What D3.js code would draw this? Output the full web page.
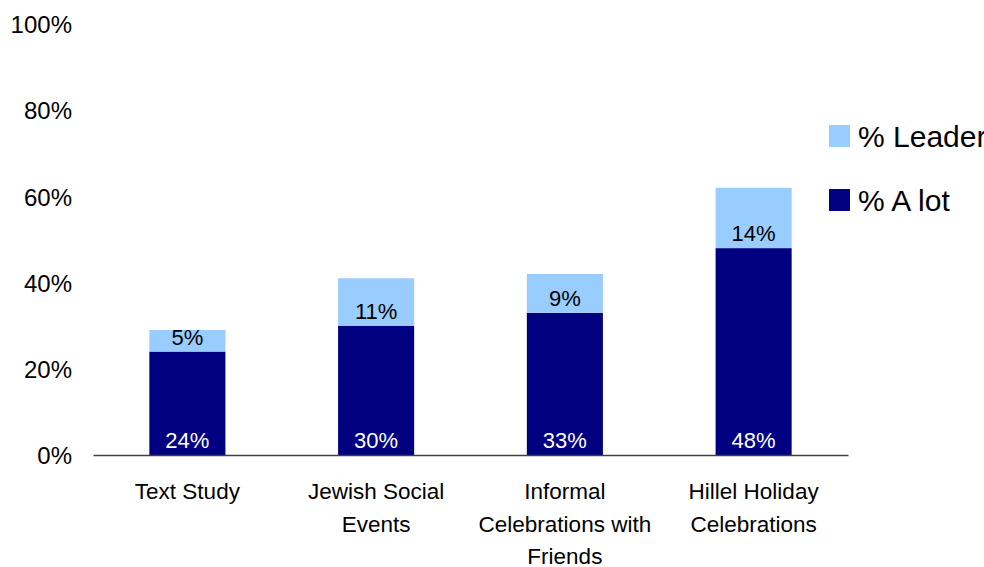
<!DOCTYPE html>
<html>
<head>
<meta charset="utf-8">
<script src="https://cdn.jsdelivr.net/npm/d3@7"></script>
<style>
  html, body { margin: 0; padding: 0; background: #fff; overflow: hidden; }
  svg text { font-family: "Liberation Sans", Arial, Helvetica, sans-serif; }
</style>
</head>
<body>
<svg id="chart" width="984" height="567"></svg>
<script>
// Participation by activity type
const categories = [
  ["Text Study"],
  ["Jewish Social", "Events"],
  ["Informal", "Celebrations with", "Friends"],
  ["Hillel Holiday", "Celebrations"]
];
const aLot = [24, 30, 33, 48];
const leader = [5, 11, 9, 14];
const yTicks = [0, 20, 40, 60, 80, 100];
const seriesNames = ["% Leader", "% A lot"];
const colors = { aLot: "#000080", leader: "#99CCFF" };

const svg = d3.select("#chart");
const margin = { left: 93, right: 136, top: 24, bottom: 112 };
const W = 984, H = 567;

const x = d3.scaleBand()
  .domain(d3.range(categories.length))
  .range([margin.left, W - margin.right])
  .padding(0);
const barW = x.bandwidth() * 0.403;

const y = d3.scaleLinear()
  .domain([0, 100])
  .range([H - margin.bottom, margin.top]);

// y axis labels (no axis line, no ticks)
const yAxis = d3.axisLeft(y)
  .tickValues(yTicks)
  .tickFormat(d => d + "%")
  .tickSize(0)
  .tickPadding(0);
const yg = svg.append("g")
  .attr("transform", `translate(${margin.left - 21},0)`)
  .call(yAxis);
yg.select(".domain").remove();
yg.selectAll("text")
  .attr("font-size", 24)
  .attr("fill", "#000")
  .attr("dy", "0.36em")
  .style("font-family", '"Liberation Sans", Arial, sans-serif');

const stacked = categories.map((c, i) => ({
  i,
  a: aLot[i],
  l: leader[i]
}));

const g = svg.append("g");

// dark segment (% A lot)
g.selectAll("rect.alot")
  .data(stacked)
  .join("rect")
  .attr("class", "alot")
  .attr("x", d => x(d.i) + (x.bandwidth() - barW) / 2)
  .attr("width", barW)
  .attr("y", d => y(d.a))
  .attr("height", d => y(0) - y(d.a))
  .attr("fill", colors.aLot);

// light segment (% Leader) on top
g.selectAll("rect.leader")
  .data(stacked)
  .join("rect")
  .attr("class", "leader")
  .attr("x", d => x(d.i) + (x.bandwidth() - barW) / 2)
  .attr("width", barW)
  .attr("y", d => y(d.a + d.l))
  .attr("height", d => y(d.a) - y(d.a + d.l))
  .attr("fill", colors.leader);

// value labels near the base of each segment
g.selectAll("text.alot")
  .data(stacked)
  .join("text")
  .attr("class", "alot")
  .attr("x", d => x(d.i) + x.bandwidth() / 2)
  .attr("y", d => y(0) - 7)
  .attr("text-anchor", "middle")
  .attr("font-size", 22)
  .attr("fill", "#fff")
  .text(d => d.a + "%");

g.selectAll("text.leader")
  .data(stacked)
  .join("text")
  .attr("class", "leader")
  .attr("x", d => x(d.i) + x.bandwidth() / 2)
  .attr("y", d => y(d.a) - 7)
  .attr("text-anchor", "middle")
  .attr("font-size", 22)
  .attr("fill", "#000")
  .text(d => d.l + "%");

// x axis baseline
const xAxis = d3.axisBottom(x).tickSize(0).tickFormat("");
const xg = svg.append("g")
  .attr("transform", `translate(0,${y(0)})`)
  .call(xAxis);
xg.select(".domain").attr("stroke", "#404040").attr("stroke-width", 1.3);

// category labels, multi-line
const catG = svg.append("g");
categories.forEach((lines, i) => {
  const t = catG.append("text")
    .attr("text-anchor", "middle")
    .attr("font-size", 22.5)
    .attr("fill", "#000");
  lines.forEach((ln, k) => {
    t.append("tspan")
      .attr("x", x(i) + x.bandwidth() / 2)
      .attr("y", y(0) + 44 + k * 32.5)
      .text(ln);
  });
});

// legend
const legend = svg.append("g").attr("transform", "translate(829,125)");
const legendColors = [colors.leader, colors.aLot];
seriesNames.forEach((name, k) => {
  const row = legend.append("g").attr("transform", `translate(0,${k * 64})`);
  row.append("rect")
    .attr("width", 21).attr("height", 22)
    .attr("fill", legendColors[k]);
  row.append("text")
    .attr("x", 29).attr("y", 11)
    .attr("dy", "0.36em")
    .attr("font-size", 30)
    .attr("fill", "#000")
    .text(name);
});
</script>
</body>
</html>
